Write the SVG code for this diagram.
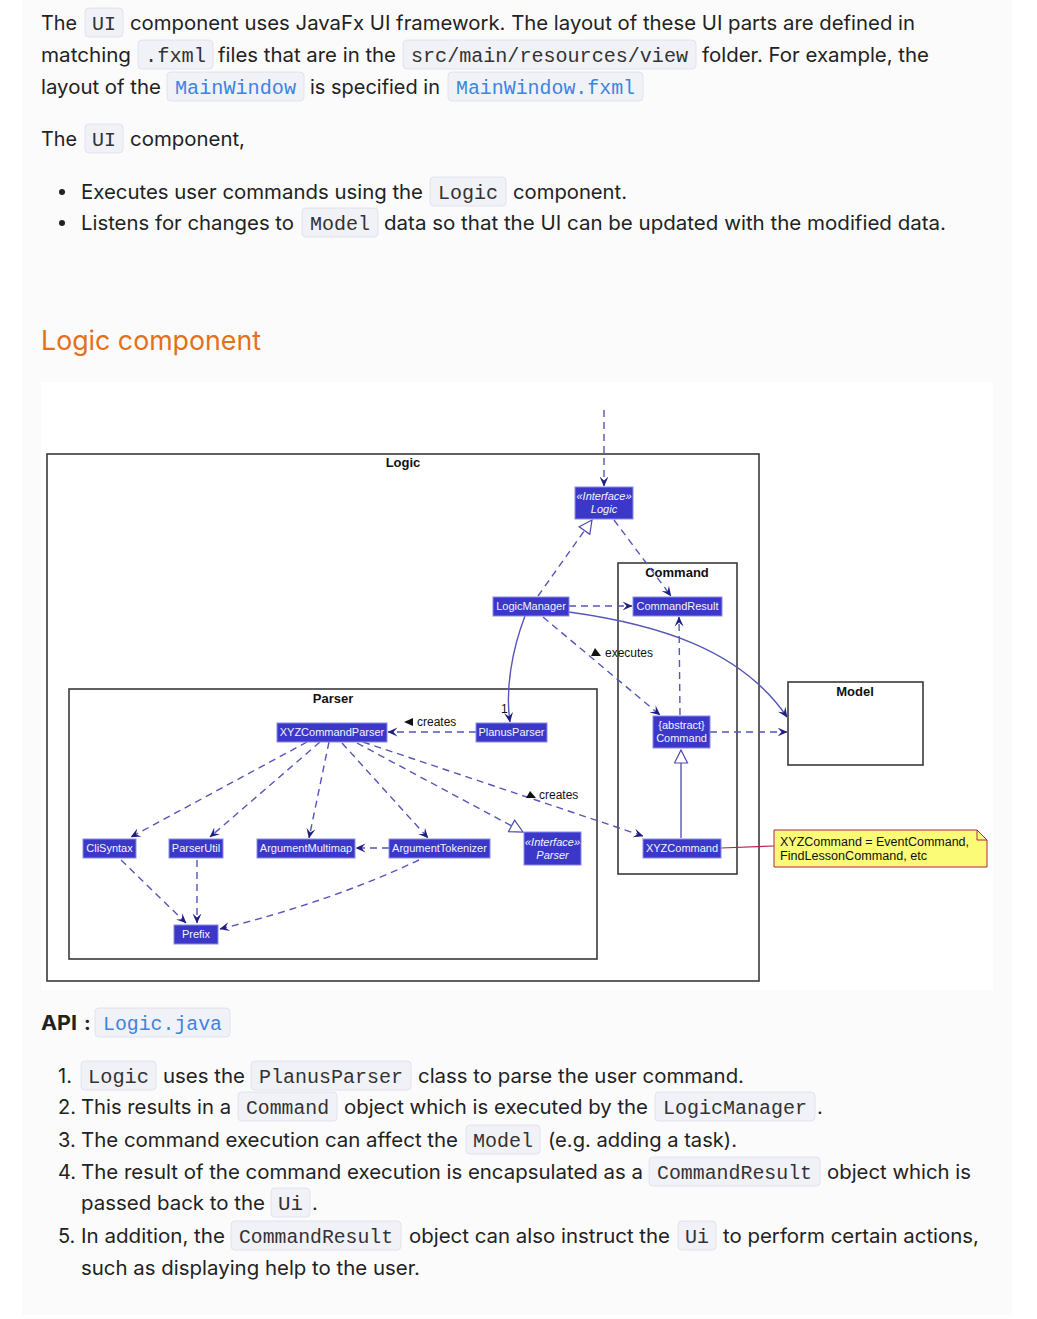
<svg xmlns="http://www.w3.org/2000/svg" width="1037" height="1319" viewBox="0 0 1037 1319">
<style>
.t{font-family:Inter,"Liberation Sans",sans-serif;font-size:20px;fill:#222}
.b{font-weight:bold}
.c{font-family:"Liberation Mono",monospace;font-size:20px;fill:#333}
.cl{fill:#3d85e0}
.cb{fill:#f1f1f8;stroke:#e2e2ee;stroke-width:1}
.h{font-family:Inter,"Liberation Sans",sans-serif;font-size:27px;fill:#e4701a}
.node rect{fill:#3a37c9;stroke:#8c8ce6;stroke-width:1}
.node text{font-family:"Liberation Sans",Arial,sans-serif;font-size:11px;fill:#f4f4ff;text-anchor:middle}
.node .i{font-style:italic}
.frame{fill:none;stroke:#3a3a3a;stroke-width:1.6}
.fl{font-family:"Liberation Sans",Arial,sans-serif;font-size:13px;font-weight:bold;fill:#111;text-anchor:middle}
.e{fill:none;stroke:#5656b8;stroke-width:1.4}
.d{stroke-dasharray:7 5}
.lbl{font-family:"Liberation Sans",Arial,sans-serif;font-size:12px;fill:#111}
.dir{fill:#111}
</style>
<defs>
<marker id="arr" viewBox="0 0 10 10" refX="9.5" refY="5" markerWidth="10" markerHeight="10" markerUnits="userSpaceOnUse" orient="auto">
<path d="M0,0.5 L10,5 L0,9.5 L4,5 Z" fill="#1e1e80" stroke="none"/>
</marker>
<marker id="tri" viewBox="0 0 15 15" refX="14" refY="7.5" markerWidth="15" markerHeight="15" markerUnits="userSpaceOnUse" orient="auto">
<path d="M1,1 L14,7.5 L1,14 Z" fill="#fff" stroke="#4a4ab0" stroke-width="1.2" stroke-dasharray="none"/>
</marker>
</defs>

<!-- page background -->
<rect x="0" y="0" width="1037" height="1319" fill="#fff"/>
<rect x="22" y="0" width="990" height="1315" fill="#fbfbfc"/>

<!-- top text -->
<g id="intro">
<text class="t" x="41" y="30" textLength="36" lengthAdjust="spacingAndGlyphs">The</text>
<rect class="cb" x="85" y="8" width="38" height="29" rx="4"/>
<text class="c" x="92" y="30" textLength="24" lengthAdjust="spacingAndGlyphs">UI</text>
<text class="t" x="130" y="30" textLength="785" lengthAdjust="spacingAndGlyphs">component uses JavaFx UI framework. The layout of these UI parts are defined in</text>

<text class="t" x="41" y="62" textLength="90" lengthAdjust="spacingAndGlyphs">matching</text>
<rect class="cb" x="138" y="40" width="75" height="29" rx="4"/>
<text class="c" x="145" y="62" textLength="61" lengthAdjust="spacingAndGlyphs">.fxml</text>
<text class="t" x="218" y="62" textLength="178" lengthAdjust="spacingAndGlyphs">files that are in the</text>
<rect class="cb" x="403" y="40" width="293" height="29" rx="4"/>
<text class="c" x="411" y="62" textLength="277" lengthAdjust="spacingAndGlyphs">src/main/resources/view</text>
<text class="t" x="702" y="62" textLength="227" lengthAdjust="spacingAndGlyphs">folder. For example, the</text>

<text class="t" x="41" y="94" textLength="120" lengthAdjust="spacingAndGlyphs">layout of the</text>
<rect class="cb" x="167" y="72" width="137" height="29" rx="4"/>
<text class="c cl" x="175" y="94" textLength="121" lengthAdjust="spacingAndGlyphs">MainWindow</text>
<text class="t" x="310" y="94" textLength="130" lengthAdjust="spacingAndGlyphs">is specified in</text>
<rect class="cb" x="448" y="72" width="195" height="29" rx="4"/>
<text class="c cl" x="456" y="94" textLength="179" lengthAdjust="spacingAndGlyphs">MainWindow.fxml</text>

<text class="t" x="41" y="146" textLength="36" lengthAdjust="spacingAndGlyphs">The</text>
<rect class="cb" x="85" y="124" width="38" height="29" rx="4"/>
<text class="c" x="92" y="146" textLength="24" lengthAdjust="spacingAndGlyphs">UI</text>
<text class="t" x="130" y="146" textLength="115" lengthAdjust="spacingAndGlyphs">component,</text>

<circle cx="62" cy="192" r="3" fill="#222"/>
<text class="t" x="81" y="199" textLength="342" lengthAdjust="spacingAndGlyphs">Executes user commands using the</text>
<rect class="cb" x="430" y="177" width="76" height="29" rx="4"/>
<text class="c" x="438" y="199" textLength="60" lengthAdjust="spacingAndGlyphs">Logic</text>
<text class="t" x="513" y="199" textLength="114" lengthAdjust="spacingAndGlyphs">component.</text>

<circle cx="62" cy="223" r="3" fill="#222"/>
<text class="t" x="81" y="230" textLength="213" lengthAdjust="spacingAndGlyphs">Listens for changes to</text>
<rect class="cb" x="302" y="208" width="76" height="29" rx="4"/>
<text class="c" x="310" y="230" textLength="60" lengthAdjust="spacingAndGlyphs">Model</text>
<text class="t" x="384" y="230" textLength="562" lengthAdjust="spacingAndGlyphs">data so that the UI can be updated with the modified data.</text>

<text class="h" x="41" y="350" textLength="220" lengthAdjust="spacingAndGlyphs">Logic component</text>
</g>

<!-- diagram area -->
<rect x="41" y="382" width="952" height="608" fill="#fff"/>

<g id="frames">
<g id="frame-logic"><rect class="frame" x="47" y="454" width="712" height="527"/><text class="fl" x="403" y="467">Logic</text></g>
<g id="frame-command"><rect class="frame" x="618" y="563" width="119" height="311"/><text class="fl" x="677" y="577">Command</text></g>
<g id="frame-parser"><rect class="frame" x="69" y="689" width="528" height="270"/><text class="fl" x="333" y="703">Parser</text></g>
<g id="frame-model"><rect class="frame" x="788" y="682" width="135" height="83"/><text class="fl" x="855" y="696">Model</text></g>
</g>

<g id="connectors">
<path class="e d" d="M604,410 L604,486" marker-end="url(#arr)"/>
<path class="e d" d="M614,520 L671,596" marker-end="url(#arr)"/>
<path class="e d" d="M538,596 L592,520" marker-end="url(#tri)"/>
<path class="e d" d="M569,606 L632,606" marker-end="url(#arr)"/>
<path class="e" d="M525,616 C512,650 505,690 510,722" marker-end="url(#arr)"/>
<text class="lbl" x="501" y="713">1</text>
<path class="e" d="M569,612 C655,624 740,648 787,717" marker-end="url(#arr)"/>
<path class="e d" d="M543,617 L660,715" marker-end="url(#arr)"/>
<polygon class="dir" points="591,656 595,648 601,656"/>
<text class="lbl" x="605" y="657">executes</text>
<path class="e d" d="M680,715 L679,617" marker-end="url(#arr)"/>
<path class="e d" d="M710,732 L787,732" marker-end="url(#arr)"/>
<path class="e" d="M681,838 L681,750" marker-end="url(#tri)"/>
<path d="M721,848 L774,846" fill="none" stroke="#b3254a" stroke-width="1.2"/>
<path class="e d" d="M476,732 L388,732" marker-end="url(#arr)"/>
<polygon class="dir" points="404,722 413,718 413,726"/>
<text class="lbl" x="417" y="726">creates</text>
<path class="e d" d="M307,742 L131,837" marker-end="url(#arr)"/>
<path class="e d" d="M320,742 L210,837" marker-end="url(#arr)"/>
<path class="e d" d="M329,742 L309,838" marker-end="url(#arr)"/>
<path class="e d" d="M342,743 L428,838" marker-end="url(#arr)"/>
<path class="e d" d="M357,743 L523,832" marker-end="url(#tri)"/>
<path class="e d" d="M363,742 L643,836" marker-end="url(#arr)"/>
<polygon class="dir" points="526,798 530,791 536,798"/>
<text class="lbl" x="539" y="799">creates</text>
<path class="e d" d="M389,848 L356,848" marker-end="url(#arr)"/>
<path class="e d" d="M121,860 L186,923" marker-end="url(#arr)"/>
<path class="e d" d="M197,860 L197,923" marker-end="url(#arr)"/>
<path class="e d" d="M419,860 Q330,902 220,929" marker-end="url(#arr)"/>
</g>

<g id="nodes">
<g id="n-logic" class="node"><rect x="575" y="487" width="58" height="32"/><text class="i" x="604" y="500" font-size="10">«Interface»</text><text class="i" x="604" y="513">Logic</text></g>
<g id="n-logicmanager" class="node"><rect x="493" y="597" width="76" height="19"/><text x="531" y="610">LogicManager</text></g>
<g id="n-commandresult" class="node"><rect x="633" y="597" width="89" height="19"/><text x="677.5" y="610">CommandResult</text></g>
<g id="n-xyzcommandparser" class="node"><rect x="277" y="723" width="110" height="19"/><text x="332" y="736">XYZCommandParser</text></g>
<g id="n-planusparser" class="node"><rect x="476" y="723" width="71" height="19"/><text x="511.5" y="736">PlanusParser</text></g>
<g id="n-command" class="node"><rect x="653" y="716" width="57" height="32"/><text x="681.5" y="729">{abstract}</text><text x="681.5" y="742">Command</text></g>
<g id="n-clisyntax" class="node"><rect x="83" y="839" width="53" height="19"/><text x="109.5" y="852">CliSyntax</text></g>
<g id="n-parserutil" class="node"><rect x="169" y="839" width="54" height="19"/><text x="196" y="852">ParserUtil</text></g>
<g id="n-argumentmultimap" class="node"><rect x="257" y="839" width="98" height="19"/><text x="306" y="852">ArgumentMultimap</text></g>
<g id="n-argumenttokenizer" class="node"><rect x="389" y="839" width="101" height="19"/><text x="439.5" y="852">ArgumentTokenizer</text></g>
<g id="n-parser" class="node"><rect x="524" y="832" width="57" height="33"/><text class="i" x="552.5" y="846" font-size="10">«Interface»</text><text class="i" x="552.5" y="859">Parser</text></g>
<g id="n-xyzcommand" class="node"><rect x="643" y="839" width="78" height="19"/><text x="682" y="852">XYZCommand</text></g>
<g id="n-prefix" class="node"><rect x="174" y="925" width="44" height="19"/><text x="196" y="938">Prefix</text></g>
<g id="n-note">
<path d="M774,830 L977,830 L987,840 L987,867 L774,867 Z" fill="#fbfb77" stroke="#b3254a" stroke-width="1"/>
<path d="M977,830 L977,840 L987,840" fill="none" stroke="#b3254a" stroke-width="1"/>
<text x="780" y="846" font-family="Liberation Sans,Arial,sans-serif" font-size="12" fill="#111" textLength="189" lengthAdjust="spacingAndGlyphs">XYZCommand = EventCommand,</text>
<text x="780" y="860" font-family="Liberation Sans,Arial,sans-serif" font-size="12" fill="#111" textLength="147" lengthAdjust="spacingAndGlyphs">FindLessonCommand, etc</text>
</g>
</g>

<!-- bottom text -->
<g id="api">
<text class="t b" x="41" y="1030" textLength="36" lengthAdjust="spacingAndGlyphs">API</text>
<text class="t b" x="84" y="1030">:</text>
<rect class="cb" x="95" y="1008" width="135" height="29" rx="4"/>
<text class="c cl" x="103" y="1030" textLength="119" lengthAdjust="spacingAndGlyphs">Logic.java</text>

<text class="t" x="58" y="1083">1.</text>
<rect class="cb" x="81" y="1061" width="75" height="29" rx="4"/>
<text class="c" x="88" y="1083" textLength="61" lengthAdjust="spacingAndGlyphs">Logic</text>
<text class="t" x="163" y="1083" textLength="82" lengthAdjust="spacingAndGlyphs">uses the</text>
<rect class="cb" x="251" y="1061" width="160" height="29" rx="4"/>
<text class="c" x="259" y="1083" textLength="144" lengthAdjust="spacingAndGlyphs">PlanusParser</text>
<text class="t" x="418" y="1083" textLength="326" lengthAdjust="spacingAndGlyphs">class to parse the user command.</text>

<text class="t" x="58" y="1114">2.</text>
<text class="t" x="81" y="1114" textLength="150" lengthAdjust="spacingAndGlyphs">This results in a</text>
<rect class="cb" x="238" y="1092" width="99" height="29" rx="4"/>
<text class="c" x="246" y="1114" textLength="83" lengthAdjust="spacingAndGlyphs">Command</text>
<text class="t" x="344" y="1114" textLength="304" lengthAdjust="spacingAndGlyphs">object which is executed by the</text>
<rect class="cb" x="655" y="1092" width="160" height="29" rx="4"/>
<text class="c" x="663" y="1114" textLength="144" lengthAdjust="spacingAndGlyphs">LogicManager</text>
<text class="t" x="817" y="1114">.</text>

<text class="t" x="58" y="1147">3.</text>
<text class="t" x="81" y="1147" textLength="377" lengthAdjust="spacingAndGlyphs">The command execution can affect the</text>
<rect class="cb" x="466" y="1125" width="74" height="29" rx="4"/>
<text class="c" x="473" y="1147" textLength="60" lengthAdjust="spacingAndGlyphs">Model</text>
<text class="t" x="548" y="1147" textLength="189" lengthAdjust="spacingAndGlyphs">(e.g. adding a task).</text>

<text class="t" x="58" y="1179">4.</text>
<text class="t" x="81" y="1179" textLength="562" lengthAdjust="spacingAndGlyphs">The result of the command execution is encapsulated as a</text>
<rect class="cb" x="649" y="1157" width="171" height="29" rx="4"/>
<text class="c" x="657" y="1179" textLength="155" lengthAdjust="spacingAndGlyphs">CommandResult</text>
<text class="t" x="827" y="1179" textLength="144" lengthAdjust="spacingAndGlyphs">object which is</text>
<text class="t" x="81" y="1210" textLength="184" lengthAdjust="spacingAndGlyphs">passed back to the</text>
<rect class="cb" x="271" y="1188" width="39" height="29" rx="4"/>
<text class="c" x="278" y="1210" textLength="25" lengthAdjust="spacingAndGlyphs">Ui</text>
<text class="t" x="312" y="1210">.</text>

<text class="t" x="58" y="1243">5.</text>
<text class="t" x="81" y="1243" textLength="144" lengthAdjust="spacingAndGlyphs">In addition, the</text>
<rect class="cb" x="231" y="1221" width="170" height="29" rx="4"/>
<text class="c" x="239" y="1243" textLength="154" lengthAdjust="spacingAndGlyphs">CommandResult</text>
<text class="t" x="409" y="1243" textLength="261" lengthAdjust="spacingAndGlyphs">object can also instruct the</text>
<rect class="cb" x="678" y="1221" width="38" height="29" rx="4"/>
<text class="c" x="685" y="1243" textLength="24" lengthAdjust="spacingAndGlyphs">Ui</text>
<text class="t" x="723" y="1243" textLength="256" lengthAdjust="spacingAndGlyphs">to perform certain actions,</text>
<text class="t" x="81" y="1275" textLength="339" lengthAdjust="spacingAndGlyphs">such as displaying help to the user.</text>
</g>
</svg>
